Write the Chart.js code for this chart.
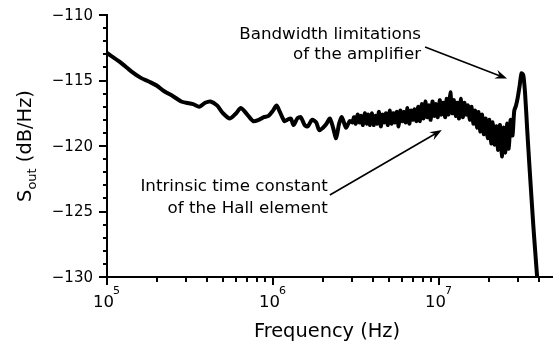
<!DOCTYPE html>
<html>
<head>
<meta charset="utf-8">
<script src="https://cdn.jsdelivr.net/npm/chart.js@4.4.1/dist/chart.umd.min.js"></script>
<style>
  html, body { margin: 0; padding: 0; background: #fff; }
</style>
</head>
<body>
<canvas id="chart" width="553" height="345"></canvas>
<script>
// values (frequency in Hz, S_out in dB/Hz)
const freqHz = [
  1.0e5, 1.2e5, 1.4e5, 1.6e5, 1.8e5, 2.0e5, 2.2e5, 2.5e5, 2.8e5, 3.0e5,
  3.3e5, 3.6e5, 3.9e5, 4.2e5, 4.6e5, 5.0e5, 5.5e5, 6.0e5, 6.4e5, 7.0e5,
  7.6e5, 8.2e5, 8.8e5, 9.4e5,
  1.0e6, 1.05e6, 1.1e6, 1.17e6, 1.22e6, 1.28e6, 1.33e6, 1.4e6, 1.47e6, 1.55e6,
  1.62e6, 1.72e6, 1.82e6, 1.9e6, 2.0e6, 2.1e6, 2.2e6, 2.3e6, 2.4e6, 2.5e6,
  2.6e6, 2.75e6, 2.9e6,
  3.00e6, 3.08e6, 3.15e6, 3.23e6, 3.31e6, 3.39e6, 3.48e6, 3.57e6, 3.66e6, 3.75e6, 3.84e6,
  3.94e6, 4.04e6, 4.14e6, 4.24e6, 4.35e6, 4.46e6, 4.57e6, 4.68e6, 4.80e6, 4.92e6,
  5.04e6, 5.17e6, 5.30e6, 5.43e6, 5.57e6, 5.71e6, 5.85e6, 6.00e6, 6.15e6, 6.30e6,
  6.46e6, 6.62e6, 6.79e6, 6.96e6, 7.13e6, 7.31e6, 7.49e6, 7.68e6,
  7.87e6, 8.07e6, 8.27e6, 8.48e6, 8.69e6, 8.91e6, 9.13e6, 9.36e6, 9.59e6, 9.83e6,
  1.01e7, 1.03e7, 1.06e7, 1.09e7, 1.11e7, 1.14e7, 1.17e7, 1.20e7,
  1.23e7, 1.26e7, 1.29e7, 1.32e7, 1.35e7, 1.39e7, 1.42e7, 1.46e7, 1.49e7,
  1.53e7, 1.57e7, 1.61e7, 1.65e7, 1.69e7, 1.73e7, 1.77e7, 1.82e7, 1.86e7, 1.91e7,
  1.96e7, 2.01e7, 2.06e7,
  2.11e7, 2.16e7, 2.22e7, 2.27e7, 2.33e7, 2.39e7, 2.45e7, 2.51e7, 2.57e7, 2.63e7,
  2.70e7, 2.77e7, 2.84e7,
  2.91e7, 2.98e7, 3.06e7, 3.14e7, 3.22e7, 3.3e7, 3.4e7, 3.5e7, 3.6e7, 3.7e7,
  3.8e7, 3.9e7
];
const sOut = [
  -112.9, -113.6, -114.3, -114.8, -115.1, -115.4, -115.8, -116.2, -116.6, -116.7,
  -116.8, -117.0, -116.7, -116.6, -116.9, -117.5, -117.9, -117.5, -117.1, -117.6,
  -118.1, -118.0, -117.8, -117.7,
  -117.3, -116.9, -117.4, -118.1, -118.0, -117.9, -118.4, -117.9, -117.8, -118.4,
  -118.5, -118.0, -118.2, -118.8, -118.6, -118.3, -117.9, -118.6, -119.4, -118.3,
  -117.8, -118.6, -118.1,
  -118.2, -117.8, -118.3, -117.6, -118.2, -117.7, -118.4, -117.5, -118.3, -117.6, -118.4,
  -117.5, -118.4, -117.7, -118.3, -117.4, -118.5, -117.6, -118.2, -117.5, -118.4,
  -117.3, -118.3, -117.5, -118.2, -117.4, -118.5, -117.3, -118.1, -117.4, -118.2,
  -117.1, -118.3, -117.3, -118.0, -117.2, -118.1, -117.0, -118.1,
  -116.8, -117.9, -116.6, -117.8, -116.9, -118.0, -116.6, -117.7, -116.8, -117.8,
  -116.5, -117.6, -116.7, -117.8, -116.4, -117.6, -115.9, -117.5,
  -116.5, -117.7, -116.7, -117.9, -116.4, -117.8, -116.7, -117.6, -116.9,
  -118.0, -117.0, -118.3, -117.3, -118.6, -117.4, -118.9, -117.6, -119.1, -117.9,
  -119.4, -118.0, -119.8,
  -118.2, -119.9, -118.5, -120.3, -118.4, -120.8, -118.6, -120.5, -118.3, -120.2,
  -118.0, -119.2, -117.3,
  -116.9, -116.3, -115.4, -114.45, -114.6, -116.0, -118.8, -121.4, -123.8, -126.1,
  -128.1, -130.0
];

const xRange = [1e5, 4.86e7];
const yRange = [-130, -110];
const xDecades = [1e5, 1e6, 1e7];
const yMajorTicks = [-130, -125, -120, -115, -110];

const xTitle = "Frequency (Hz)";
const yTitle = ["S", "out", " (dB/Hz)"];

// annotation texts: right edge anchored at [Hz, dB]
const notes = [
  { lines: ["Bandwidth limitations", "of the amplifier"], at: [7.79e6, -111.83], lineGap: 20 },
  { lines: ["Intrinsic time constant", "of the Hall element"], at: [2.14e6, -123.44], lineGap: 22 }
];
const arrows = [
  { from: [8.24e6, -112.44], to: [2.57e7, -114.85] },
  { from: [2.2e6, -123.74], to: [1.04e7, -118.78] }
];

const FONT = "'DejaVu Sans', sans-serif";

function drawArrow(ctx, x1, y1, x2, y2) {
  const ang = Math.atan2(y2 - y1, x2 - x1);
  const len = 12, half = 4.5;
  ctx.lineWidth = 1.6;
  ctx.beginPath();
  ctx.moveTo(x1, y1);
  ctx.lineTo(x2 - Math.cos(ang) * 6, y2 - Math.sin(ang) * 6);
  ctx.stroke();
  ctx.beginPath();
  ctx.moveTo(x2, y2);
  ctx.lineTo(x2 - len * Math.cos(ang) + half * Math.sin(ang), y2 - len * Math.sin(ang) - half * Math.cos(ang));
  ctx.lineTo(x2 - 8 * Math.cos(ang), y2 - 8 * Math.sin(ang));
  ctx.lineTo(x2 - len * Math.cos(ang) - half * Math.sin(ang), y2 - len * Math.sin(ang) + half * Math.cos(ang));
  ctx.closePath();
  ctx.fill();
}

const axisDeco = {
  id: "axisDeco",
  afterDraw(chart) {
    const { ctx, chartArea, scales: { x, y } } = chart;
    ctx.save();
    ctx.strokeStyle = "#000";
    ctx.fillStyle = "#000";
    ctx.lineWidth = 2;

    // y ticks (1 dB minor, 5 dB major) pointing outward
    for (let v = yRange[0]; v <= yRange[1]; v++) {
      const py = Math.round(y.getPixelForValue(v));
      const len = v % 5 === 0 ? 8 : 4;
      ctx.beginPath();
      ctx.moveTo(chartArea.left, py);
      ctx.lineTo(chartArea.left - len, py);
      ctx.stroke();
    }
    ctx.font = "15px " + FONT;
    ctx.textAlign = "right";
    ctx.textBaseline = "middle";
    yMajorTicks.forEach((v) => {
      ctx.fillText("\u2212" + Math.abs(v), chartArea.left - 14, y.getPixelForValue(v) + 1);
    });

    // x ticks: decades long, 2..9 short
    xDecades.forEach((d) => {
      for (let m = 1; m <= 9; m++) {
        const f = d * m;
        if (f > xRange[1]) break;
        const px = Math.round(x.getPixelForValue(f));
        ctx.beginPath();
        ctx.moveTo(px, chartArea.bottom);
        ctx.lineTo(px, chartArea.bottom + (m === 1 ? 8 : 5));
        ctx.stroke();
      }
      const px = x.getPixelForValue(d);
      const exp = String(Math.round(Math.log10(d)));
      ctx.font = "16.5px " + FONT;
      const wb = ctx.measureText("10").width;
      ctx.font = "11px " + FONT;
      const we = ctx.measureText(exp).width;
      const left = px - (wb + we) / 2;
      ctx.textAlign = "left";
      ctx.textBaseline = "alphabetic";
      ctx.font = "16.5px " + FONT;
      ctx.fillText("10", left, chartArea.bottom + 30);
      ctx.font = "11px " + FONT;
      ctx.fillText(exp, left + wb - 1, chartArea.bottom + 17);
    });

    // axis titles
    ctx.font = "19.4px " + FONT;
    ctx.textAlign = "center";
    ctx.textBaseline = "alphabetic";
    ctx.fillText(xTitle, (chartArea.left + chartArea.right) / 2 - 3, 337);

    ctx.save();
    ctx.translate(31, (chartArea.top + chartArea.bottom) / 2);
    ctx.rotate(-Math.PI / 2);
    ctx.font = "19.4px " + FONT;
    const w0 = ctx.measureText(yTitle[0]).width;
    const w2 = ctx.measureText(yTitle[2]).width;
    ctx.font = "13px " + FONT;
    const w1 = ctx.measureText(yTitle[1]).width;
    let sx = -(w0 + w1 + w2) / 2;
    ctx.textAlign = "left";
    ctx.font = "19.4px " + FONT;
    ctx.fillText(yTitle[0], sx, 0);
    ctx.font = "13px " + FONT;
    ctx.fillText(yTitle[1], sx + w0, 5);
    ctx.font = "19.4px " + FONT;
    ctx.fillText(yTitle[2], sx + w0 + w1, 0);
    ctx.restore();

    // annotations
    ctx.font = "16.7px " + FONT;
    ctx.textAlign = "right";
    notes.forEach((n) => {
      const px = x.getPixelForValue(n.at[0]);
      const py = y.getPixelForValue(n.at[1]);
      n.lines.forEach((t, i) => ctx.fillText(t, px, py + i * n.lineGap));
    });
    arrows.forEach((a) => {
      drawArrow(ctx,
        x.getPixelForValue(a.from[0]), y.getPixelForValue(a.from[1]),
        x.getPixelForValue(a.to[0]), y.getPixelForValue(a.to[1]));
    });
    ctx.restore();
  }
};

new Chart(document.getElementById("chart").getContext("2d"), {
  type: "line",
  data: {
    labels: freqHz,
    datasets: [{
      data: freqHz.map((f, i) => ({ x: f, y: sOut[i] })),
      borderColor: "#000",
      borderWidth: 4,
      pointRadius: 0,
      tension: 0.25,
      borderJoinStyle: "round",
      borderCapStyle: "round"
    }]
  },
  options: {
    responsive: false,
    animation: false,
    devicePixelRatio: 1,
    layout: { padding: { left: 99, top: 15, right: 0, bottom: 60 } },
    plugins: { legend: { display: false }, tooltip: { enabled: false } },
    scales: {
      x: {
        type: "logarithmic",
        min: xRange[0],
        max: xRange[1],
        grid: { display: false },
        ticks: { display: false },
        border: { display: true, color: "#000", width: 2 }
      },
      y: {
        min: yRange[0],
        max: yRange[1],
        grid: { display: false },
        ticks: { display: false },
        border: { display: true, color: "#000", width: 2 }
      }
    }
  },
  plugins: [axisDeco]
});
</script>
</body>
</html>
